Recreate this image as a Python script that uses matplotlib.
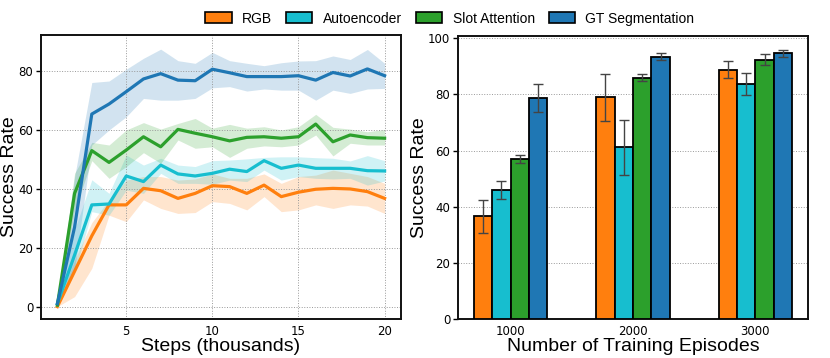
import matplotlib
matplotlib.use("Agg")
import matplotlib.pyplot as plt
from matplotlib.patches import Patch
import numpy as np

# ---------------- data ----------------
methods = ["RGB", "Autoencoder", "Slot Attention", "GT Segmentation"]
colors = ["#ff7f0e", "#17becf", "#2ca02c", "#1f77b4"]

steps = list(range(1, 21))

rgb_mean = [0, 12, 24, 34.5, 34.5, 40.1, 39.3, 36.7, 38.4, 41, 40.7, 38.4, 41.2, 37.3, 38.8, 39.8, 40.1, 39.9, 39, 36.7]
rgb_low = [0, 3.4, 13, 31, 28.8, 36.2, 33.3, 31.6, 31.9, 35.6, 35, 32.8, 37.3, 32.2, 32.8, 34.5, 33.3, 34.5, 34.1, 31.6]
rgb_high = [0.5, 15.8, 28.5, 36.2, 42.9, 44.1, 44.1, 42.9, 43.3, 45, 43.5, 43.5, 45, 41.8, 44.1, 44.6, 46.3, 45.2, 44.1, 41.8]

ae_mean = [1, 17.5, 34.5, 34.8, 44.3, 42.4, 48, 45, 44.3, 45.2, 46.6, 45.8, 49.5, 46.9, 48, 46.9, 46.9, 46.9, 46.1, 46]
ae_low = [0.5, 11.4, 32.2, 31, 39.5, 38.4, 45.2, 41.8, 41.8, 41.5, 42.9, 42.4, 46.3, 42.9, 44.1, 43.5, 43.3, 43.5, 41.2, 42.6]
ae_high = [1.5, 26, 43, 38.4, 51.4, 48, 50.3, 48, 47.5, 49.5, 49.7, 50.1, 50.6, 50.8, 50.8, 50.5, 50.3, 49.4, 51.2, 49.5]

slot_mean = [0.5, 38.4, 52.9, 48.9, 53.1, 57.6, 54.2, 60.1, 58.8, 57.6, 56.2, 57.4, 57.6, 57.1, 57.6, 61.9, 55.9, 58.2, 57.3, 57.1]
slot_low = [0, 32.8, 49.5, 43.5, 47.5, 52.2, 48.6, 56.5, 53.7, 54.2, 50.6, 53.7, 54.5, 54.2, 54.8, 58.2, 51.1, 55.4, 54.8, 54.8]
slot_high = [1, 45.2, 55.7, 54.8, 59.9, 62.4, 60.2, 62.1, 63.8, 60.5, 61.8, 60.5, 61, 59.9, 61, 65.2, 60.8, 60.2, 59.3, 60.1]

gt_mean = [1, 27, 65.3, 68.7, 72.9, 77.2, 79, 76.8, 76.6, 80.5, 79.3, 78, 78, 78, 78.3, 76.8, 79.4, 78.2, 80.6, 78.3]
gt_low = [0.5, 12.4, 54.8, 59.9, 64.4, 70.6, 70, 70, 70.6, 74.2, 74.6, 73.1, 73.8, 73.4, 73.4, 70, 73.4, 72.3, 73.8, 74]
gt_high = [1.5, 44, 76, 76.5, 80.5, 84.2, 87.3, 83.4, 82.5, 86.2, 83.4, 82.5, 81.7, 82.7, 83.3, 83.4, 85, 83.8, 87.2, 82.5]

episodes = ["1000", "2000", "3000"]
rgb_bar = [36.6, 79, 88.8]
ae_bar = [45.9, 61.2, 83.6]
slot_bar = [57, 86, 92.3]
gt_bar = [78.6, 93.5, 94.6]
rgb_err = [5.9, 8.4, 3.1]
ae_err = [3.2, 9.8, 3.9]
slot_err = [1.4, 1.2, 2.0]
gt_err = [5.0, 1.2, 1.3]

curves = [(rgb_mean, rgb_low, rgb_high), (ae_mean, ae_low, ae_high),
          (slot_mean, slot_low, slot_high), (gt_mean, gt_low, gt_high)]
bars = [(rgb_bar, rgb_err), (ae_bar, ae_err), (slot_bar, slot_err), (gt_bar, gt_err)]

label_font = "Liberation Sans"

fig = plt.figure(figsize=(8.3, 3.58), dpi=100)
ax1 = fig.add_axes([0.0494, 0.1089, 0.4337, 0.7933])
ax2 = fig.add_axes([0.5518, 0.1089, 0.4217, 0.7905])

#---------- left: learning curves ----------#
for (m, lo, hi), c in zip(curves, colors):
    ax1.fill_between(steps, lo, hi, color=c, alpha=0.2, linewidth=0)
    ax1.plot(steps, m, color=c, linewidth=2.3)
ax1.set_xlim(0.05, 20.95)
ax1.set_ylim(-4.2, 92.1)
ax1.set_xticks([5, 10, 15, 20])
ax1.set_yticks([0, 20, 40, 60, 80])
ax1.grid(True, linestyle=":", color="#999999", linewidth=0.7)
ax1.set_xlabel("Steps (thousands)", fontsize=14, family=label_font, labelpad=0)
ax1.set_ylabel("Success Rate", fontsize=14, family=label_font, labelpad=0)

#---------- right: bar chart ----------#
x = np.arange(len(episodes))
w = 0.15
for i, ((vals, errs), c) in enumerate(zip(bars, colors)):
    ax2.bar(x + (i - 1.5) * w, vals, w, color=c, edgecolor="black", linewidth=1.3,
            yerr=errs, capsize=3.5, error_kw=dict(ecolor="#444444", elinewidth=1.0, capthick=1.0),
            zorder=3)
ax2.set_xlim(-0.43, 2.43)
ax2.set_ylim(0, 100.8)
ax2.set_xticks(x)
ax2.set_xticklabels(episodes)
ax2.set_yticks([0, 20, 40, 60, 80, 100])
ax2.yaxis.grid(True, linestyle=":", color="#999999", linewidth=0.7, zorder=0)
ax2.set_axisbelow(True)
ax2.set_xlabel("Number of Training Episodes", fontsize=14, family=label_font, labelpad=0)
ax2.set_ylabel("Success Rate", fontsize=14, family=label_font, labelpad=0)

for ax in (ax1, ax2):
    for s in ax.spines.values():
        s.set_linewidth(1.4)
        s.set_color("#111111")
    ax.tick_params(axis="y", length=3.5, width=1, labelsize=8.5, pad=2)
    ax.tick_params(axis="x", length=0, labelsize=8.5, pad=4.5)

handles = [Patch(facecolor=c, edgecolor="black", linewidth=1.2, label=m) for m, c in zip(methods, colors)]
fig.legend(handles=handles, loc="center", bbox_to_anchor=(0.542, 0.948), ncol=4, frameon=False,
           prop=dict(family=label_font, size=10), columnspacing=1.0, handletextpad=0.75,
           handlelength=1.9, handleheight=0.85)

plt.savefig("out.png", dpi=100)
